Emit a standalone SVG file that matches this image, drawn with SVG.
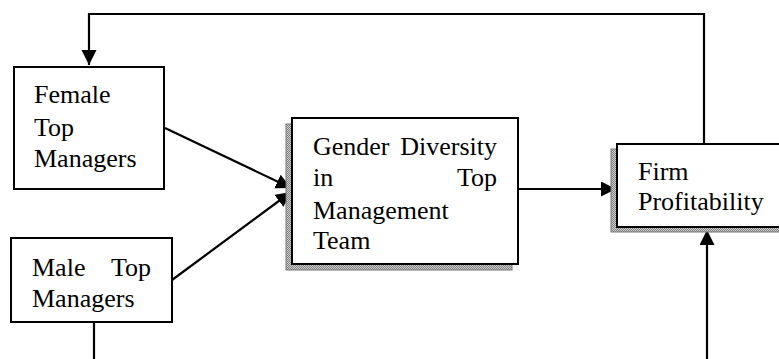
<svg xmlns="http://www.w3.org/2000/svg" width="779" height="359" viewBox="0 0 779 359">
<style>
.box{fill:#fff;stroke:#000;stroke-width:2}
.shadow{fill:url(#dots);stroke:#777;stroke-width:1}
.t{font-family:"Liberation Serif","Times New Roman",serif;font-size:26px;fill:#000}
.e{text-anchor:end}
.c{fill:none;stroke:#000;stroke-width:2.2}
</style>
<defs>
<pattern id="dots" width="2" height="2" patternUnits="userSpaceOnUse">
<rect width="2" height="2" fill="#d0d0d0"/>
<rect width="1" height="1" fill="#808080"/>
<rect x="1" y="1" width="1" height="1" fill="#808080"/>
</pattern>
<marker id="ah" markerUnits="userSpaceOnUse" markerWidth="16" markerHeight="16" viewBox="0 0 16 16" refX="15" refY="7.5" orient="auto">
<path d="M0,0 L15,7.5 L0,15 z" fill="#000"/>
</marker>
</defs>
<g id="connectors">
<path class="c" d="M704,144 V14 H89 V65" marker-end="url(#ah)"/>
<path class="c" d="M165,128 L291,188" marker-end="url(#ah)"/>
<path class="c" d="M172,280 L291,192" marker-end="url(#ah)"/>
<path class="c" d="M518,189 H616" marker-end="url(#ah)"/>
<path class="c" d="M707,359 V230" marker-end="url(#ah)"/>
<path class="c" d="M94,322 V359"/>
</g>
<g id="female">
<rect class="box" x="14" y="67" width="150" height="122"/>
<text class="t" x="34" y="103">Female</text>
<text class="t" x="34" y="136">Top</text>
<text class="t" x="34" y="167">Managers</text>
</g>
<g id="male">
<rect class="box" x="11" y="238" width="161" height="84"/>
<text class="t" x="32" y="276">Male</text>
<text class="t e" x="151" y="276">Top</text>
<text class="t" x="32" y="307">Managers</text>
</g>
<g id="gender">
<rect class="shadow" x="286" y="124" width="226" height="146"/>
<rect class="box" x="292" y="118" width="226" height="146"/>
<text class="t" x="313" y="155">Gender</text>
<text class="t e" x="497" y="155">Diversity</text>
<text class="t" x="313" y="186">in</text>
<text class="t e" x="497" y="186">Top</text>
<text class="t" x="313" y="219">Management</text>
<text class="t" x="313" y="249">Team</text>
</g>
<g id="firm">
<rect class="shadow" x="611" y="149" width="180" height="83"/>
<rect class="box" x="617" y="144" width="180" height="83"/>
<text class="t" x="638" y="180">Firm</text>
<text class="t" x="638" y="210">Profitability</text>
</g>
</svg>
